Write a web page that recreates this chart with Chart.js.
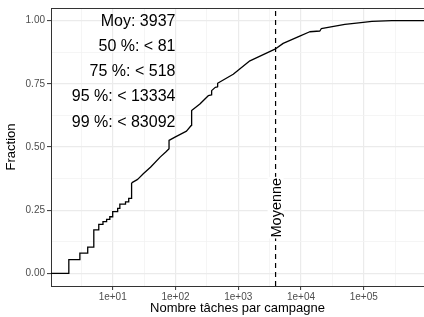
<!DOCTYPE html>
<html>
<head>
<meta charset="utf-8">
<script src="https://cdn.jsdelivr.net/npm/chart.js@4"></script>
<style>
  html, body { margin: 0; padding: 0; background: #fff; overflow: hidden; }
  #wrap { width: 424px; height: 317px; }
</style>
</head>
<body>
<div id="wrap"><canvas id="ecdf-chart" width="424" height="317"></canvas></div>
<script>
// ECDF of tasks per campaign
// low end: clear steps
const tachesBas = [1, 2, 3, 4, 5, 6, 7, 8, 9, 10, 12, 13, 16, 18, 20];
const fractionsBas = [0, 0.054, 0.080, 0.104, 0.172, 0.194, 0.205, 0.214, 0.224, 0.244,
    0.257, 0.274, 0.283, 0.297, 0.358];
// rest of the curve: many tiny steps, drawn as a line (repeated x = visible jump)
const tachesHaut = [20, 25, 31, 40, 57, 70, 79, 79, 100, 150, 178, 181, 245, 333, 377, 377,
    430, 470, 470, 832, 1535, 3850, 5200, 9550, 13800, 20000, 21000, 30000, 50000, 83000,
    135000, 280000, 2000000];
const fractionsHaut = [0.358, 0.372, 0.395, 0.42, 0.46, 0.48, 0.493, 0.526, 0.54, 0.563, 0.585, 0.644,
    0.67, 0.703, 0.706, 0.723, 0.736, 0.738, 0.752, 0.788, 0.841, 0.887, 0.910, 0.939, 0.956, 0.959,
    0.968, 0.975, 0.985, 0.991, 0.997, 1.0, 1.0];

const moyenne = 3937;
const statLabels = ['Moy: 3937', '50 %: < 81', '75 %: < 518', '95 %: < 13334', '99 %: < 83092'];
const xTickExponents = [1, 2, 3, 4, 5];
const yTickValues = [0, 0.25, 0.5, 0.75, 1];

const FONT = '"Liberation Sans", Arial, Helvetica, sans-serif';
const isMajorX = v => { const l = Math.log10(v); return Math.abs(l - Math.round(l)) < 1e-6; };
const isMajorY = v => yTickValues.some(t => Math.abs(t - v) < 1e-6);

// text annotations + top border of the panel
const annotPlugin = {
    id: 'annot',
    afterDatasetsDraw(chart) {
        const ctx = chart.ctx;
        const xs = chart.scales.x, ys = chart.scales.y;
        const area = chart.chartArea;
        ctx.save();
        // panel top border
        ctx.strokeStyle = '#333333';
        ctx.lineWidth = 1;
        ctx.beginPath();
        ctx.moveTo(area.left, area.top + 0.5);
        ctx.lineTo(area.right, area.top + 0.5);
        ctx.stroke();

        // stats text, right aligned at x = 100
        ctx.fillStyle = '#000';
        ctx.font = '16px ' + FONT;
        ctx.textAlign = 'right';
        ctx.textBaseline = 'middle';
        const xr = xs.getPixelForValue(100);
        statLabels.forEach((txt, i) => {
            ctx.fillText(txt, xr, ys.getPixelForValue(1.0 - i * 0.1) + 0.5);
        });

        // "Moyenne" on the dashed line
        const mx = xs.getPixelForValue(moyenne);
        const my = ys.getPixelForValue(0.26);
        ctx.translate(mx, my);
        ctx.rotate(-Math.PI / 2);
        ctx.font = '14.5px ' + FONT;
        const w = ctx.measureText('Moyenne').width;
        ctx.fillStyle = '#fff';
        ctx.fillRect(-w / 2 - 1, -8, w + 2, 16);
        ctx.fillStyle = '#000';
        ctx.textAlign = 'center';
        ctx.fillText('Moyenne', 0, 1);
        ctx.restore();
    }
};

document.addEventListener('DOMContentLoaded', function () {
    const ctx = document.getElementById('ecdf-chart').getContext('2d');

    const lineStyle = { borderColor: '#000', borderWidth: 1.3, pointRadius: 0, fill: false };

    new Chart(ctx, {
        type: 'line',
        data: {
            datasets: [Object.assign({
                data: tachesBas.map((t, i) => ({ x: t, y: fractionsBas[i] })),
                stepped: 'before'
            }, lineStyle), Object.assign({
                data: tachesHaut.map((t, i) => ({ x: t, y: fractionsHaut[i] })),
                tension: 0,
                borderJoinStyle: 'round'
            }, lineStyle), {
                data: [{ x: moyenne, y: -0.05 }, { x: moyenne, y: 1.05 }],
                borderColor: '#000',
                borderWidth: 1.2,
                borderDash: [5, 4],
                pointRadius: 0,
                fill: false
            }]
        },
        options: {
            responsive: false,
            animation: false,
            layout: { padding: { top: 6, right: 0, left: 0, bottom: 0 } },
            plugins: {
                legend: { display: false },
                tooltip: { enabled: false }
            },
            scales: {
                x: {
                    type: 'logarithmic',
                    min: Math.pow(10, 0.017),
                    max: Math.pow(10, 5.96),
                    afterBuildTicks: scale => {
                        const ticks = [];
                        for (let k = 1; k <= 11; k++) ticks.push({ value: Math.pow(10, k / 2) });
                        scale.ticks = ticks;
                    },
                    afterFit: scale => { scale.height = 31; },
                    grid: {
                        color: c => (c.tick && isMajorX(c.tick.value)) ? '#ebebeb' : '#f3f3f3',
                        lineWidth: c => (c.tick && isMajorX(c.tick.value)) ? 1.2 : 0.8,
                        tickColor: c => (c.tick && isMajorX(c.tick.value)) ? '#333333' : 'rgba(0,0,0,0)',
                        tickLength: 4,
                        tickWidth: 1
                    },
                    border: { display: true, color: '#333333', width: 1 },
                    ticks: {
                        autoSkip: false,
                        maxRotation: 0,
                        padding: 1,
                        color: '#4d4d4d',
                        font: { family: FONT, size: 10 },
                        callback: v => {
                            if (!isMajorX(v)) return '';
                            const e = Math.round(Math.log10(v));
                            return xTickExponents.includes(e) ? '1e+0' + e : '';
                        }
                    },
                    title: {
                        display: true,
                        text: 'Nombre tâches par campagne',
                        color: '#000',
                        font: { family: FONT, size: 13 },
                        padding: { top: 0, bottom: 1 }
                    }
                },
                y: {
                    type: 'linear',
                    min: -0.05,
                    max: 1.05,
                    afterBuildTicks: scale => {
                        const ticks = [];
                        for (let k = 0; k <= 8; k++) ticks.push({ value: k * 0.125 });
                        scale.ticks = ticks;
                    },
                    afterFit: scale => { scale.width = 51; },
                    grid: {
                        color: c => (c.tick && isMajorY(c.tick.value)) ? '#ebebeb' : '#f3f3f3',
                        lineWidth: c => (c.tick && isMajorY(c.tick.value)) ? 1.2 : 0.8,
                        tickColor: c => (c.tick && isMajorY(c.tick.value)) ? '#333333' : 'rgba(0,0,0,0)',
                        tickLength: 4,
                        tickWidth: 1
                    },
                    border: { display: true, color: '#333333', width: 1 },
                    ticks: {
                        autoSkip: false,
                        padding: 2,
                        color: '#4d4d4d',
                        font: { family: FONT, size: 10 },
                        callback: v => isMajorY(v) ? v.toFixed(2) : ''
                    },
                    title: {
                        display: true,
                        text: 'Fraction',
                        color: '#000',
                        font: { family: FONT, size: 13 },
                        padding: { top: 4, bottom: 0 }
                    }
                }
            }
        },
        plugins: [annotPlugin]
    });
});
</script>
</body>
</html>
